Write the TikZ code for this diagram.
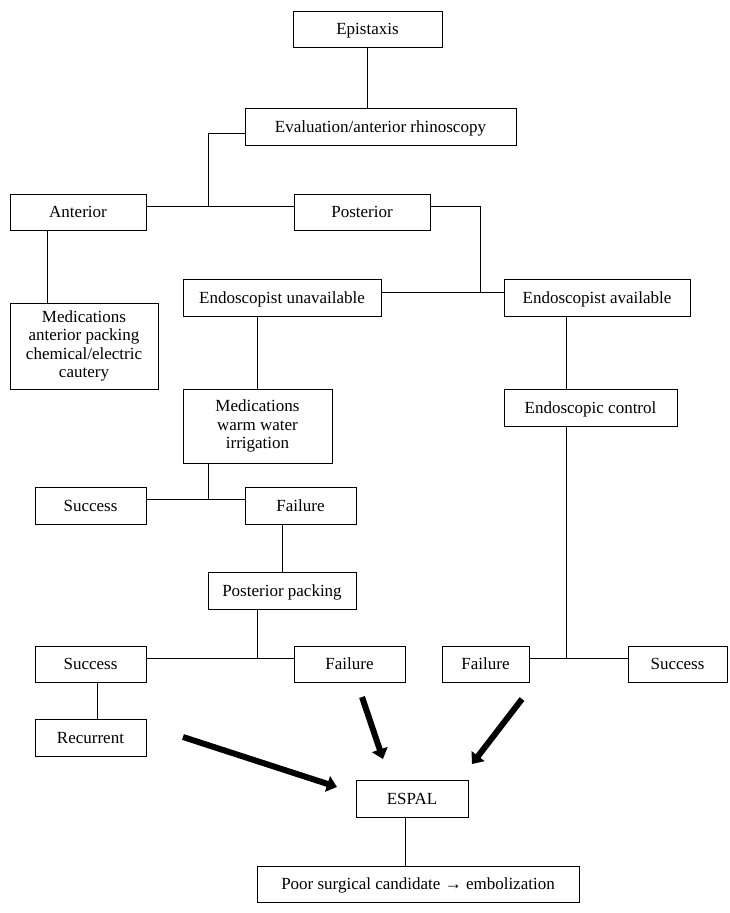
\documentclass[tikz,border=0pt]{standalone}
\usepackage{fontspec}
\setmainfont{Liberation Serif}
\usetikzlibrary{arrows.meta}
\begin{document}
\begin{tikzpicture}[x=1pt,y=1pt,
  box/.style={draw, line width=0.8pt, minimum height=37pt, inner sep=2pt, align=center,
    font=\fontsize{17}{18.5}\selectfont},
  one/.style={box, text height=11.5pt, text depth=0pt},
  multi/.style={box},
  conn/.style={line width=0.8pt},
  bigarrow/.style={line width=6pt, -{Triangle[length=10pt,width=16pt]}}]
\useasboundingbox (0,0) rectangle (729,-913);
% boxes
\node[one, minimum width=149pt, minimum height=36pt] (epi) at (367.5,-29) {Epistaxis};
\node[one, minimum width=271pt] (eval) at (380.5,-126.5) {Evaluation/anterior rhinoscopy};
\node[one, minimum width=136pt, minimum height=36pt] (ant) at (78,-212) {Anterior};
\node[one, minimum width=136pt, minimum height=36pt] (post) at (362,-212) {Posterior};
\node[multi, minimum width=148pt, minimum height=86pt] (med1) at (84,-346) {Medications\\anterior packing\\chemical/electric\\cautery};
\node[one, minimum width=198pt] (enu) at (282,-297.5) {Endoscopist unavailable};
\node[one, minimum width=186pt] (ena) at (597,-297.5) {Endoscopist available};
\node[multi, minimum width=149pt, minimum height=74pt] (med2) at (257.5,-426) {Medications\\warm water\\irrigation};
\node[one, minimum width=173pt] (ec) at (590.5,-407.5) {Endoscopic control};
\node[one, minimum width=111pt] (succ1) at (90.5,-505.5) {Success};
\node[one, minimum width=111pt] (fail1) at (300.5,-505.5) {Failure};
\node[one, minimum width=148pt] (pp) at (282,-590.5) {Posterior packing};
\node[one, minimum width=111pt, minimum height=36pt] (succ2) at (90.5,-664) {Success};
\node[one, minimum width=111pt, minimum height=36pt] (fail2) at (349.5,-664) {Failure};
\node[one, minimum width=87pt, minimum height=36pt] (fail3) at (485.5,-664) {Failure};
\node[one, minimum width=99pt, minimum height=36pt] (succ3) at (677.5,-664) {Success};
\node[one, minimum width=111pt] (rec) at (90.5,-737.5) {Recurrent};
\node[one, minimum width=112pt] (espal) at (412,-798.5) {ESPAL};
\node[one, minimum width=322pt, minimum height=36pt] (poor) at (418,-884) {Poor surgical candidate → embolization};
% junction coordinates
\coordinate (jA) at (208,-206);
\coordinate (jB) at (480,-292);
\coordinate (jC) at (566,-658);
\coordinate (jD) at (208,-499);
\coordinate (jE) at (257,-658);
\coordinate (xAnt) at (47,-260);
\coordinate (xRec) at (97,-700);
\coordinate (xEsp) at (405,-840);
% connectors
\draw[conn] (epi.south) -- (epi.south |- eval.north);
\draw[conn] ([yshift=-6.5pt]eval.west) -| (jA);
\draw[conn] (ant.east |- jA) -- (post.west |- jA);
\draw[conn] (post.east |- jA) -| (jB);
\draw[conn] (enu.east |- jB) -- (ena.west |- jB);
\draw[conn] (ant.south -| xAnt) -- (med1.north -| xAnt);
\draw[conn] (med2.north |- enu.south) -- (med2.north);
\draw[conn] (ena.south -| jC) -- (ec.north -| jC);
\draw[conn] (ec.south -| jC) -- (jC);
\draw[conn] (fail3.east |- jC) -- (succ3.west |- jC);
\draw[conn] (med2.south -| jD) -- (jD);
\draw[conn] (succ1.east |- jD) -- (fail1.west |- jD);
\draw[conn] (pp.north |- fail1.south) -- (pp.north);
\draw[conn] (pp.south -| jE) -- (jE);
\draw[conn] (succ2.east |- jE) -- (fail2.west |- jE);
\draw[conn] (succ2.south -| xRec) -- (rec.north -| xRec);
\draw[conn] (espal.south -| xEsp) -- (poor.north -| xEsp);
% thick arrows
\coordinate (a1s) at (183,-737);
\coordinate (a1e) at (337,-787);
\coordinate (a2s) at (362,-697);
\coordinate (a2e) at (383,-759);
\coordinate (a3s) at (522,-699);
\coordinate (a3e) at (472,-764);
\draw[bigarrow] (a1s) -- (a1e);
\draw[bigarrow] (a2s) -- (a2e);
\draw[bigarrow] (a3s) -- (a3e);
\end{tikzpicture}
\end{document}
